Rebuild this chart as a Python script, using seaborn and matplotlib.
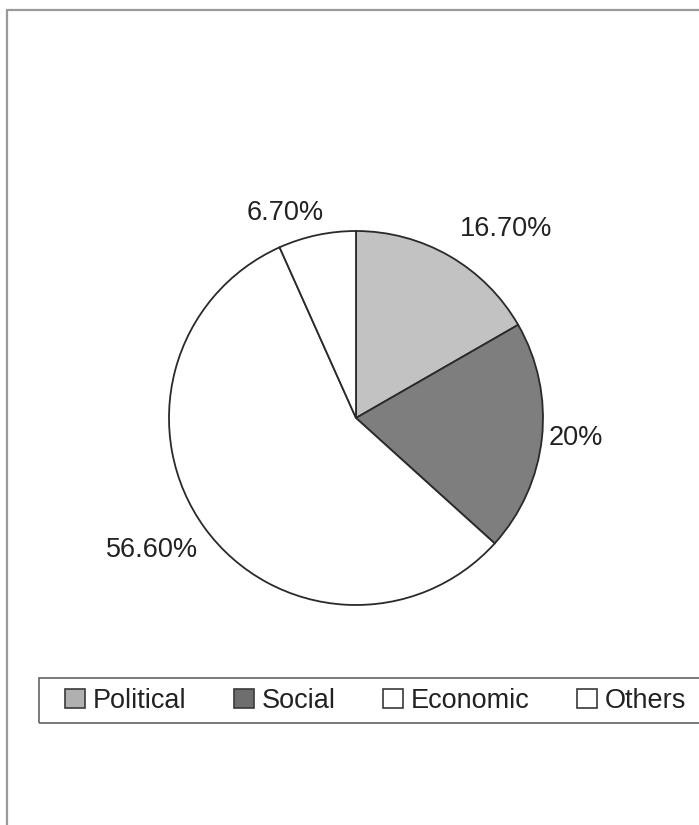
import matplotlib
matplotlib.use("Agg")
import matplotlib.pyplot as plt
from matplotlib.patches import Patch, Rectangle
import numpy as np
import seaborn as sns

# ---- data ----
categories = ["Political", "Social", "Economic", "Others"]
shares = [16.7, 20.0, 56.6, 6.7]
value_labels = ["16.70%", "20%", "56.60%", "6.70%"]

# ---- styles ----
wedge_colors = ["#c2c2c2", "#7e7e7e", "#ffffff", "#ffffff"]
legend_colors = ["#b0b0b0", "#6e6e6e", "#ffffff", "#ffffff"]
edge_color = "#2a2a2a"
text_color = "#222222"
label_shift_deg = [-8.3, 0.9, -3.0, 7.0]
label_dist = [1.29, 1.18, 1.30, 1.16]

sns.set_theme(style="white")
plt.rcParams["font.family"] = ["Liberation Sans", "DejaVu Sans"]

W, H = 699, 825
fig = plt.figure(figsize=(W / 100, H / 100), dpi=100)
fig.patch.set_facecolor("white")

# outer frame (extends past right and bottom edges like the scan)
fig.patches.append(Rectangle((7 / W, -0.05), 1.1, 1 - 10 / H + 0.05,
                             transform=fig.transFigure, fill=False,
                             edgecolor="#9a9a9a", linewidth=1.6))

# pie axes: center (356, 418) px, radius 187 px
cx, cy, r = 356, 418, 187
ax = fig.add_axes([(cx - r) / W, (H - cy - r) / H, 2 * r / W, 2 * r / H])
wedges, _ = ax.pie(shares, colors=wedge_colors, startangle=90,
                   counterclock=False,
                   wedgeprops=dict(edgecolor=edge_color, linewidth=1.3))
ax.set_xlim(-1, 1)
ax.set_ylim(-1, 1)
ax.set_aspect("auto")
ax.axis("off")

for w, lab, dth, d in zip(wedges, value_labels, label_shift_deg, label_dist):
    mid = np.deg2rad((w.theta1 + w.theta2) / 2 + dth)
    ax.text(d * np.cos(mid), d * np.sin(mid), lab, ha="center", va="center",
            fontsize=19.5, color=text_color, clip_on=False)

# legend box
fig.patches.append(Rectangle((39 / W, 1 - 723 / H), 1.0, 45 / H,
                             transform=fig.transFigure, fill=False,
                             edgecolor="#6e6e6e", linewidth=1.3))
handles = [Patch(facecolor=c, edgecolor="#3a3a3a", linewidth=1.2)
           for c in legend_colors]
fig.legend(handles, categories, ncol=4, frameon=False, loc="center left",
           bbox_to_anchor=(65 / W, 1 - 701 / H), bbox_transform=fig.transFigure,
           borderpad=0, borderaxespad=0, handlelength=0.74, handleheight=0.72,
           handletextpad=0.27, columnspacing=1.77, fontsize=19.5,
           labelcolor=text_color)

fig.savefig("out.png", dpi=100, facecolor="white")
